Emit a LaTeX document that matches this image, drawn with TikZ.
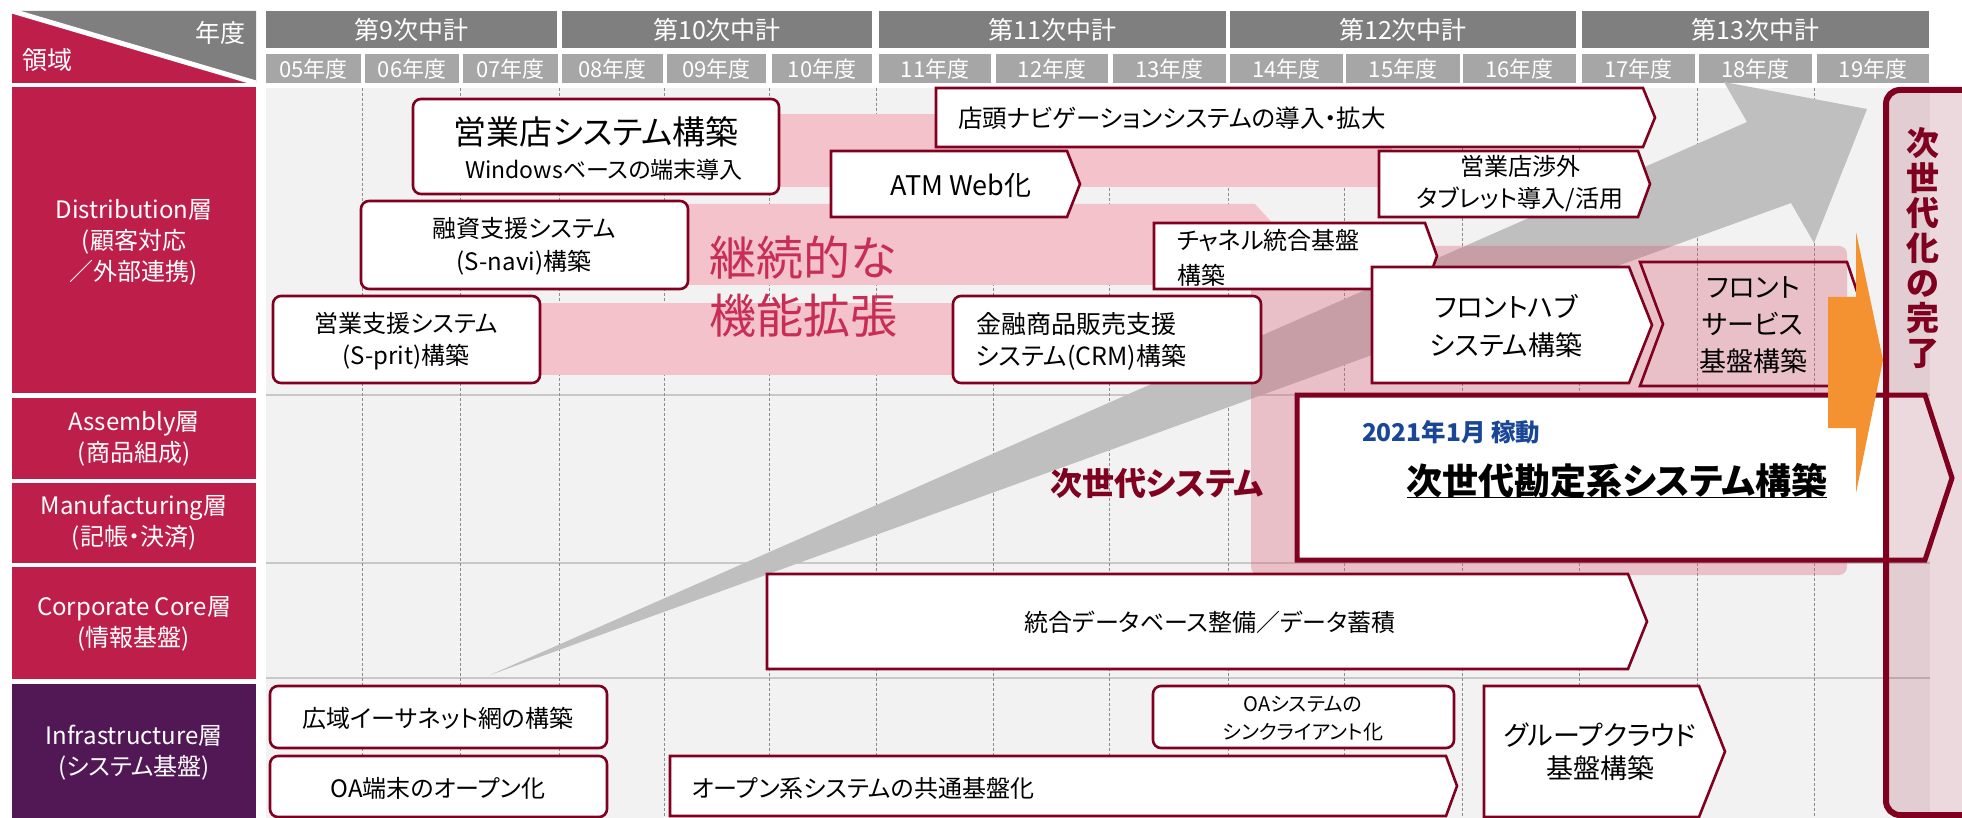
\documentclass[tikz,border=0pt]{standalone}
\usepackage{fontspec}
\setmainfont{Noto Sans CJK JP}[RawFeature={+palt}]
\definecolor{crim}{RGB}{190,30,74}
\definecolor{purp}{RGB}{82,24,86}
\definecolor{dred}{RGB}{128,0,32}
\definecolor{bandpink}{RGB}{244,194,203}
\definecolor{blockpink}{RGB}{218,92,116}
\definecolor{arrowgray}{RGB}{191,191,191}
\definecolor{gridbg}{RGB}{242,242,242}
\definecolor{hdrdark}{RGB}{127,127,127}
\definecolor{hdrlight}{RGB}{166,166,166}
\definecolor{orng}{RGB}{244,146,49}
\definecolor{navy}{RGB}{25,70,150}
\definecolor{textcrim}{RGB}{200,45,85}
\definecolor{vgray}{RGB}{140,140,140}
\definecolor{hgray}{RGB}{200,200,200}
\newcommand{\setfs}[2]{\fontsize{#1}{#2}\selectfont}
\begin{document}
\begin{tikzpicture}[x=1pt,y=-1pt,
  every node/.style={inner sep=0pt,outer sep=0pt},
  rbox/.style={draw=dred,line width=2.6pt,fill=white,rounded corners=8pt},
  pbox/.style={draw=dred,line width=2.6pt,fill=white,line join=miter},
  hdrtxt/.style={text=white,font=\setfs{25}{30}},
  yrtxt/.style={text=white,font=\setfs{22}{26}},
  lbl/.style={text=white,align=center,font=\setfs{24}{31}},
  btxt/.style={text=black,align=center,font=\setfs{24}{32}},
  vline/.style={draw=vgray,line width=0.9pt,dash pattern=on 3pt off 2pt},
  hline/.style={draw=hgray,line width=1.5pt},
]
\useasboundingbox (0,0) rectangle (1962,818);
\clip (0,0) rectangle (1962,818);
\fill[white] (0,0) rectangle (1962,818);

% ---- header corner
\begin{scope}
\clip (12,11) rectangle (256,83);
\fill[crim] (12,11) rectangle (256,83);
\fill[hdrdark] (12,11) -- (256,11) -- (256,83) -- cycle;
\draw[white,line width=5pt] (12,11) -- (256,83);
\end{scope}
\node[hdrtxt] (hdrYear) at (220,33) {年度};
\node[hdrtxt] (hdrArea) at (48,60) {領域};

% ---- plan headers
\foreach \a/\b/\lab [count=\i] in {266/557/第9次中計,562/872/第10次中計,879/1226/第11次中計,1230/1576/第12次中計,1582/1929/第13次中計}{
  \fill[hdrdark] (\a,11) rectangle (\b,48);
  \node[hdrtxt] (plan\i) at ({(\a+\b)/2},30) {\lab};
}
\foreach \a/\b/\lab [count=\i] in {266/361/05,365/459/06,463/558/07,562/663/08,667/766/09,772/872/10,879/991/11,996/1108/12,1113/1226/13,1230/1343/14,1346/1460/15,1463/1576/16,1582/1695/17,1699/1812/18,1817/1929/19}{
  \fill[hdrlight] (\a,54) rectangle (\b,83);
  \node[yrtxt] (fy\i) at ({(\a+\b)/2},69.5) {\lab{}年度};
}

% ---- left panels
\fill[crim] (12,87) rectangle (256,393);
\node[lbl] (lDist) at (134,242) {Distribution層\\(顧客対応\\／外部連携)};
\fill[crim] (12,398) rectangle (256,479);
\node[lbl] (lAsm) at (134,439) {Assembly層\\(商品組成)};
\fill[crim] (12,483) rectangle (256,563);
\node[lbl] (lMfg) at (134,523) {Manufacturing層\\(記帳・決済)};
\fill[crim] (12,567) rectangle (256,679);
\node[lbl] (lCorp) at (134,624) {Corporate Core層\\(情報基盤)};
\fill[purp] (12,684) rectangle (256,818);
\node[lbl] (lInfra) at (134,753) {Infrastructure層\\(システム基盤)};

% ---- grid
\fill[gridbg] (266,88) rectangle (1930,818);
\foreach \y in {395,563,678}{ \draw[hline] (266,\y) -- (1930,\y); }
\foreach \x in {362,460,559,664,769,876,993,1109,1228,1344,1462,1579,1697,1814}{ \draw[vline] (\x,88) -- (\x,818); }

% ---- pink bands
\fill[bandpink] (520,114) rectangle (1392,187);
\fill[bandpink] (520,204) -- (1255,204) -- (1292,244.5) -- (1255,285) -- (520,285) -- cycle;
\fill[bandpink] (420,303) rectangle (1150,375);

% ---- grey arrow
\fill[arrowgray] (490,675) -- (1747,122) -- (1724,82) -- (1867,109) -- (1814,243) -- (1791,203) -- cycle;

% ---- next-gen block
\fill[blockpink,fill opacity=0.33,rounded corners=8pt] (1251,246) rectangle (1847,575);

% ---- Distribution boxes
\draw[rbox] (413,99) rectangle (779,194);
\node[font=\setfs{33}{36}] (eigyoten) at (596,132) {営業店システム構築};
\node[font=\setfs{23}{26}] (windows) at (604,170) {Windowsベースの端末導入};

\draw[pbox] (936,88) -- (1643,88) -- (1655,117.5) -- (1643,147) -- (936,147) -- cycle;
\node[btxt,anchor=west,font=\setfs{24.5}{32}] (tento) at (958,118) {店頭ナビゲーションシステムの導入・拡大};

\draw[pbox] (831,151) -- (1067,151) -- (1080,184) -- (1067,217) -- (831,217) -- cycle;
\node[font=\setfs{27}{30}] (atm) at (961,185) {ATM Web化};

\draw[pbox] (1379,151) -- (1638,151) -- (1650,184) -- (1638,217) -- (1379,217) -- cycle;
\node[btxt] (shogai) at (1520,184) {営業店渉外\\タブレット導入/活用};

\draw[rbox] (361,201) rectangle (688,289);
\node[btxt,font=\setfs{24}{33}] (yushi) at (524,246.5) {融資支援システム\\(S-navi)構築};

\draw[pbox] (1154,223) -- (1425,223) -- (1437,256) -- (1425,289) -- (1154,289) -- cycle;
\node[btxt,align=left,anchor=west,font=\setfs{24}{35}] (channel) at (1177,257.5) {チャネル統合基盤\\構築};

\draw[rbox] (273,296) rectangle (540,383);
\node[btxt] (eigyoshien) at (406,341) {営業支援システム\\(S-prit)構築};

\draw[rbox] (953,296) rectangle (1261,383);
\node[btxt,align=left,anchor=west,font=\setfs{25}{32}] (kinyu) at (976,341) {金融商品販売支援\\システム(CRM)構築};

\draw[pbox] (1372,267) -- (1629,267) -- (1652,325) -- (1629,383) -- (1372,383) -- cycle;
\node[btxt,font=\setfs{27}{38}] (fronthub) at (1506,326) {フロントハブ\\システム構築};

\draw[dred,line width=2.6pt,line join=miter] (1640,262) -- (1847,262) -- (1868,324) -- (1847,386) -- (1640,386) -- (1663,324) -- cycle;
\node[btxt,font=\setfs{27}{37}] (frontsvc) at (1753,325) {フロント\\サービス\\基盤構築};

\node[text=textcrim,align=left,anchor=west,font=\setfs{47}{58}] (keizoku) at (709,287) {継続的な\\機能拡張};

% ---- next-gen core box
\draw[dred,line width=5pt,fill=white,line join=miter] (1297,395) -- (1925,395) -- (1952,478) -- (1925,560) -- (1297,560) -- cycle;
\node[text=navy,anchor=west,font=\bfseries\setfs{24.5}{28}] (kado) at (1362,432) {2021年1月 稼動};
\node[font=\bfseries\setfs{36}{40}] (kanjo) at (1617,481) {次世代勘定系システム構築};
\draw[line width=1.8pt] ([yshift=1pt]kanjo.south west) -- ([yshift=1pt]kanjo.south east);
\node[text=dred,font=\bfseries\setfs{32}{34}] (jisedaisys) at (1157,483) {次世代システム};

% ---- Corporate core
\draw[pbox] (767,574) -- (1628,574) -- (1647,621.5) -- (1628,669) -- (767,669) -- cycle;
\node[btxt] (togo) at (1210,622) {統合データベース整備／データ蓄積};

% ---- Infrastructure
\draw[rbox] (270,686) rectangle (607,748);
\node[btxt] (kouiki) at (438,718) {広域イーサネット網の構築};
\draw[rbox] (270,756) rectangle (607,817);
\node[btxt] (oatanmatsu) at (438,788) {OA端末のオープン化};
\draw[pbox] (670,756) -- (1446,756) -- (1457,786) -- (1446,816) -- (670,816) -- cycle;
\node[btxt,anchor=west] (openkei) at (692,788) {オープン系システムの共通基盤化};
\draw[rbox] (1153,686) rectangle (1454,748);
\node[btxt,font=\setfs{20}{28}] (oasys) at (1303,719) {OAシステムの\\シンクライアント化};
\draw[pbox] (1484,686) -- (1699,686) -- (1725,751.5) -- (1699,817) -- (1484,817) -- cycle;
\node[btxt,font=\setfs{27}{33}] (cloud) at (1600,751.5) {グループクラウド\\基盤構築};

% ---- orange arrow
\fill[orng] (1828,297) -- (1856,297) -- (1856,232) -- (1883,360) -- (1856,493) -- (1856,428) -- (1828,428) -- cycle;

% ---- completion box
\draw[dred,line width=6pt,fill=dred,fill opacity=0.15,rounded corners=14pt] (1886,90) rectangle (2000,815);
\node[text=dred,align=center,font=\bfseries\setfs{33}{35}] (kanryo) at (1923,248) {次\\世\\代\\化\\の\\完\\了};
\end{tikzpicture}
\end{document}
